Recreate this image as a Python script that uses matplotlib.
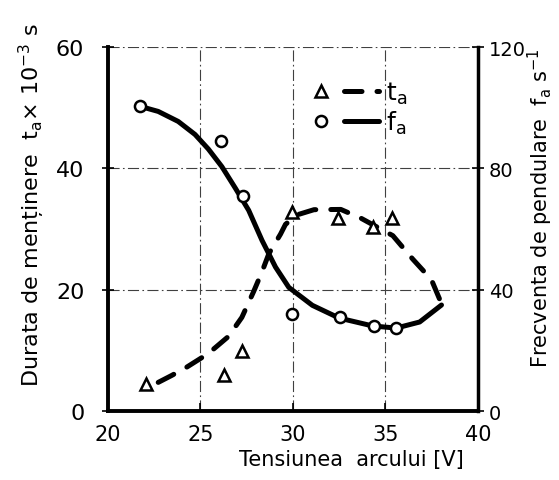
import matplotlib
matplotlib.use("Agg")
import matplotlib.pyplot as plt
from matplotlib.lines import Line2D
from matplotlib.legend_handler import HandlerTuple

u_ta = [22.08, 26.25, 27.24, 29.96, 32.41, 34.31, 35.36]
ta = [4.5, 5.9, 10.0, 32.9, 31.9, 30.4, 31.8]
u_fa = [21.72, 26.12, 27.3, 29.96, 32.53, 34.37, 35.58]
fa = [100.5, 89.1, 70.9, 32.2, 30.9, 28.1, 27.4]

# hand drawn trend curves
curve_ta_u = [22.72, 23.44, 24.26, 25.43, 26.52, 27.24, 27.88, 28.33, 28.7, 29.33,
              29.6, 30.23, 31.14, 32.59, 33.68, 35.4, 36.48, 37.48, 37.95]
curve_ta = [4.75, 5.88, 7.26, 9.51, 12.33, 15.46, 19.74, 22.98, 25.96, 29.18,
            30.8, 32.36, 33.21, 33.25, 31.8, 28.93, 25.05, 21.71, 18.3]
curve_fa_u = [21.72, 22.72, 23.8, 24.71, 25.43, 26.16, 26.89, 27.61, 28.33, 29.06,
              29.78, 31.05, 32.5, 34.31, 35.58, 36.85, 38.03]
curve_fa = [100.5, 98.8, 95.5, 91.2, 86.4, 80.6, 73.5, 66.2, 56.3, 47.5,
            40.8, 34.9, 30.7, 28.1, 27.4, 29.4, 35.0]

x_ticks = [20, 25, 30, 35, 40]
left_ticks = [0, 20, 40, 60]
right_ticks = [0, 40, 80, 120]

plt.rcParams['font.family'] = ['DejaVu Sans']
plt.rcParams['mathtext.fontset'] = 'dejavusans'

fig = plt.figure(figsize=(5.59, 4.81), dpi=100)
ax = fig.add_axes([0.193, 0.143, 0.662, 0.757])
ax2 = ax.twinx()

# grid (dash-dot, thin)
grid_style = dict(color='0.25', linewidth=0.8, linestyle=(0, (10, 3, 1.5, 3)), zorder=1)
for g in [20, 40, 60]:
    ax.axhline(g, **grid_style)
for g in [25, 30, 35]:
    ax.axvline(g, **grid_style)

# curves
ax.plot(curve_ta_u, curve_ta, color='black', linewidth=3.6,
        linestyle=(0, (3.5, 3)), dash_capstyle='round', dash_joinstyle='round', zorder=3)
ax2.plot(curve_fa_u, curve_fa, color='black', linewidth=3.6,
         solid_capstyle='round', solid_joinstyle='round', zorder=3)

# markers
ax.plot(u_ta, ta, linestyle='none', marker='^', markersize=8,
        markerfacecolor='white', markeredgecolor='black', markeredgewidth=1.8, zorder=4)
ax2.plot(u_fa, fa, linestyle='none', marker='o', markersize=8,
         markerfacecolor='white', markeredgecolor='black', markeredgewidth=1.8, zorder=4)

ax.set_xlim(20, 40)
ax.set_ylim(0, 60)
ax2.set_ylim(0, 120)
ax.set_xticks(x_ticks)
ax.set_yticks(left_ticks)
ax2.set_yticks(right_ticks)

for a in (ax, ax2):
    a.spines['top'].set_visible(False)
ax.spines['left'].set_linewidth(2.8)
ax.spines['bottom'].set_linewidth(2.8)
ax.spines['right'].set_visible(False)
ax2.spines['left'].set_visible(False)
ax2.spines['bottom'].set_visible(False)
ax2.spines['right'].set_linewidth(2.5)

ax.tick_params(axis='x', direction='in', length=6, width=1.2, labelsize=15, pad=9)
ax.tick_params(axis='y', direction='inout', length=8, width=1.2, labelsize=16, pad=13)
ax2.tick_params(axis='y', direction='inout', length=8, width=1.2, labelsize=14, pad=4)

ax.set_xlabel('Tensiunea  arcului [V]', fontsize=15)
ax.xaxis.set_label_coords(0.657, -0.105)
ax.set_ylabel('Durata de menținere  $\\mathregular{t_a}$× 10$^{-3}$ s', fontsize=16)
ax.yaxis.set_label_coords(-0.165, 0.57)
ax2.set_ylabel('Frecventa de pendulare  $\\mathregular{f_a}$ s$^{-1}$', fontsize=15)
ax2.yaxis.set_label_coords(1.13, 0.56)

# legend: marker followed by line sample
h_ta = (Line2D([], [], linestyle='none', marker='^', markersize=8, markerfacecolor='white',
               markeredgecolor='black', markeredgewidth=1.8),
        Line2D([], [], color='black', linewidth=3.6, linestyle=(0, (3.5, 3)),
               dash_capstyle='round'))
h_fa = (Line2D([], [], linestyle='none', marker='o', markersize=8, markerfacecolor='white',
               markeredgecolor='black', markeredgewidth=1.8),
        Line2D([], [], color='black', linewidth=3.6, solid_capstyle='round'))
ax2.legend([h_ta, h_fa], ['$\\mathregular{t_a}$', '$\\mathregular{f_a}$'], loc='upper left',
           bbox_to_anchor=(0.468, 0.972), frameon=False, fontsize=18,
           handlelength=3.0, handletextpad=0.3, labelspacing=0.1,
           handler_map={tuple: HandlerTuple(ndivide=None, pad=0.2)})

fig.savefig('out.png', dpi=100)
